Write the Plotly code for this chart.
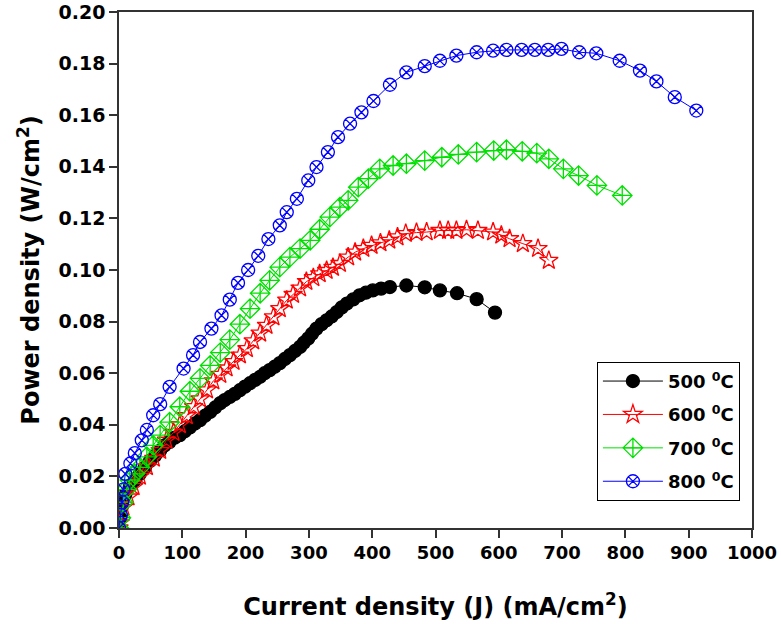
import plotly.graph_objects as go

# 500 C
x500 = [0, 2, 4, 6, 10, 17, 25, 33, 41, 49, 57, 65, 72, 80, 88, 96, 104, 112, 120, 128,
        136, 144, 152, 160, 167, 175, 183, 191, 199, 207, 215, 223, 230, 238, 246, 254,
        262, 270, 278, 286, 292, 299, 305, 312, 320, 328, 336, 344, 352, 360, 370, 380,
        390, 401, 414, 428, 454, 483, 507, 534, 565, 594]
y500 = [0.000, 0.004, 0.008, 0.011, 0.013, 0.016, 0.0185, 0.021, 0.0235, 0.026, 0.028, 0.030,
        0.032, 0.0334, 0.035, 0.036, 0.0375, 0.039, 0.0405, 0.0418, 0.0435, 0.045, 0.0467,
        0.0484, 0.0496, 0.0508, 0.052, 0.0534, 0.0548, 0.0561, 0.0574, 0.0586, 0.060, 0.0612,
        0.0625, 0.0639, 0.0655, 0.067, 0.0686, 0.0702, 0.0718, 0.0735, 0.0753, 0.0773, 0.079,
        0.0805, 0.082, 0.0837, 0.0855, 0.087, 0.0886, 0.0902, 0.0912, 0.0921, 0.0928, 0.0934,
        0.094, 0.0933, 0.0921, 0.091, 0.0887, 0.0835]

# 600 C
x600 = [0, 2, 7, 15, 23, 33, 44, 55, 65, 75, 86, 96, 107, 118, 128, 139, 149, 160, 170, 181,
        191, 202, 212, 223, 233, 244, 254, 265, 275, 286, 296, 307, 317, 328, 338, 349, 362,
        373, 386, 399, 413, 427, 440, 453, 470, 486, 507, 520, 533, 549, 567, 591, 604, 617,
        638, 662, 679]
y600 = [0.000, 0.002, 0.008, 0.012, 0.016, 0.020, 0.0237, 0.027, 0.030, 0.034, 0.037, 0.040,
        0.0435, 0.047, 0.050, 0.0535, 0.057, 0.0595, 0.062, 0.0645, 0.067, 0.0695, 0.0725,
        0.0755, 0.0785, 0.0818, 0.085, 0.0883, 0.0905, 0.093, 0.0955, 0.097, 0.0985, 0.0998,
        0.101, 0.1025, 0.105, 0.1069, 0.1083, 0.1095, 0.1105, 0.1115, 0.1128, 0.1141, 0.1145,
        0.1147, 0.1153, 0.1153, 0.1153, 0.1156, 0.1153, 0.1147, 0.1135, 0.1121, 0.1102,
        0.1083, 0.1037]

# 700 C
x700 = [0, 3, 7, 12, 17, 25, 33, 44, 54, 65, 80, 96, 112, 128, 144, 160, 175, 191, 207, 223,
        238, 254, 270, 286, 302, 317, 333, 349, 362, 378, 394, 412, 433, 454, 483, 510, 536,
        565, 592, 612, 637, 660, 679, 702, 726, 755, 795]
y700 = [0.000, 0.004, 0.010, 0.015, 0.0186, 0.021, 0.0235, 0.0276, 0.032, 0.036, 0.041, 0.047,
        0.053, 0.058, 0.063, 0.068, 0.073, 0.079, 0.085, 0.091, 0.096, 0.1011, 0.105, 0.1083,
        0.1115, 0.1158, 0.1205, 0.1244, 0.127, 0.1321, 0.1354, 0.1392, 0.1405, 0.1412, 0.1424,
        0.1437, 0.1448, 0.1457, 0.1463, 0.1466, 0.146, 0.1453, 0.1431, 0.1392, 0.1366,
        0.1328, 0.1289]

# 800 C
x800 = [0, 3, 5, 7, 10, 18, 25, 36, 44, 54, 65, 80, 102, 117, 128, 146, 162, 175, 188, 204,
        220, 236, 254, 265, 281, 299, 312, 330, 346, 365, 383, 402, 428, 454, 483, 507, 533,
        565, 591, 612, 636, 657, 678, 699, 727, 754, 791, 823, 849, 878, 912]
y800 = [0.000, 0.005, 0.010, 0.015, 0.021, 0.025, 0.029, 0.034, 0.038, 0.0437, 0.048, 0.0547,
        0.0618, 0.067, 0.0721, 0.0773, 0.0824, 0.0885, 0.095, 0.100, 0.1055, 0.112, 0.1173,
        0.1224, 0.1276, 0.1347, 0.1399, 0.1457, 0.1515, 0.1567, 0.1611, 0.1655, 0.1718,
        0.1766, 0.179, 0.1811, 0.1831, 0.1844, 0.185, 0.1853, 0.1853, 0.1853, 0.1853, 0.1857,
        0.1844, 0.184, 0.1811, 0.1773, 0.1731, 0.167, 0.1618]

x_ticks = [0, 100, 200, 300, 400, 500, 600, 700, 800, 900, 1000]
y_ticks = [0.00, 0.02, 0.04, 0.06, 0.08, 0.10, 0.12, 0.14, 0.16, 0.18, 0.20]

series = [
    ("500 <sup>0</sup>C", x500, y500, "black", "circle", 13),
    ("600 <sup>0</sup>C", x600, y600, "red", "star-open", 14),
    ("700 <sup>0</sup>C", x700, y700, "#00e000", "diamond-cross-open", 15),
    ("800 <sup>0</sup>C", x800, y800, "blue", "circle-x-open", 13),
]

fig = go.Figure()
for i, (name, xs, ys, col, sym, sz) in enumerate(series):
    fig.add_trace(go.Scatter(
        x=xs, y=ys, name=name, mode="lines+markers", legendgroup=f"g{i}",
        line=dict(color=col, width=1),
        marker=dict(symbol=sym, size=sz, color=col, line=dict(color=col, width=1.3)),
    ))

font_family = "DejaVu Sans, Verdana, sans-serif"
fig.update_layout(
    width=781, height=624,
    margin=dict(l=119, r=29, t=12, b=96),
    plot_bgcolor="white", paper_bgcolor="white",
    font=dict(family=font_family, color="black"),
    showlegend=True,
    legend=dict(
        x=0.755, y=0.322, xanchor="left", yanchor="top",
        bordercolor="black", borderwidth=1, bgcolor="white",
        font=dict(size=18, family=font_family, color="black", weight="bold"),
        tracegroupgap=7, itemwidth=60,
    ),
)
fig.update_xaxes(
    range=[0, 1000], tickvals=x_ticks, ticktext=[str(v) for v in x_ticks],
    showgrid=False, zeroline=False, automargin=False,
    showline=True, linecolor="#333", linewidth=1.5, mirror=True,
    ticks="outside", ticklen=8, tickcolor="#333", tickwidth=1.5,
    tickfont=dict(size=18, weight="bold"),
    title=dict(text="Current density (J) (mA/cm<sup>2</sup>)",
               font=dict(size=24, weight="bold"), standoff=36),
)
fig.update_yaxes(
    range=[0, 0.20], tickvals=y_ticks, ticktext=[f"{v:.2f}" for v in y_ticks],
    showgrid=False, zeroline=False, automargin=False,
    showline=True, linecolor="#333", linewidth=1.5, mirror=True,
    ticks="outside", ticklen=8, tickcolor="#333", tickwidth=1.5,
    tickfont=dict(size=19, weight="bold"),
    title=dict(text="Power density (W/cm<sup>2</sup>)",
               font=dict(size=24, weight="bold"), standoff=12),
)

fig.write_html("out.html")
